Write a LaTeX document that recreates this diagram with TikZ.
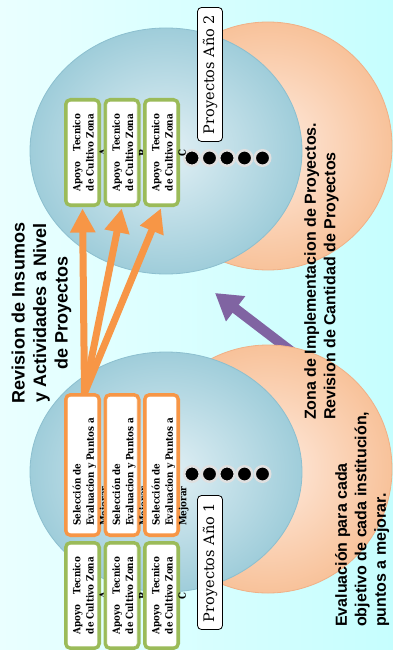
\documentclass[tikz,border=0pt]{standalone}
\usepackage{fontspec}
\newfontfamily\sansf{Liberation Sans}
\newfontfamily\boxf{DejaVu Serif}[FakeStretch=0.88]
\newfontfamily\projf{DejaVu Serif}
\usetikzlibrary{arrows.meta}
\definecolor{bgl}{HTML}{EAFFFF}
\definecolor{bgr}{HTML}{C6FEFE}
\definecolor{bluein}{HTML}{E2F0F5}
\definecolor{blueout}{HTML}{9FCDDA}
\definecolor{blueedge}{HTML}{8CBFCF}
\definecolor{orin}{HTML}{FEEBDF}
\definecolor{orout}{HTML}{F8C29A}
\definecolor{oredge}{HTML}{F0B086}
\definecolor{grn}{HTML}{9BBB59}
\definecolor{orng}{HTML}{F79646}
\definecolor{purp}{HTML}{8064A2}
\tikzset{
  blb/.style={draw=blueedge, line width=0.8pt, inner color=bluein, outer color=blueout},
  orb/.style={draw=oredge, line width=0.8pt, inner color=orin, outer color=orout},
  xbox/.style={draw=#1, line width=3pt, fill=white, rounded corners=5pt, minimum width=34pt, inner sep=0pt},
  gtext/.style={rotate=90, align=center, inner sep=0pt, font=\boxf\bfseries\fontsize{10}{13.3}\selectfont},
  otext/.style={rotate=90, align=left, inner sep=0pt, font=\boxf\bfseries\fontsize{10}{13.3}\selectfont},
  projbox/.style={rotate=90, draw=black, line width=0.8pt, fill=white, rounded corners=4pt, minimum width=134pt, minimum height=25pt, inner sep=0pt, font=\projf\fontsize{14.5}{16}\selectfont},
  dotn/.style={circle, fill=black, draw=black!12, line width=2.5pt, minimum size=15.5pt, inner sep=0pt},
  oarrow/.style={draw=orng, line width=7pt, -{Triangle[width=24pt,length=24pt]}, shorten >=1.5pt},
  parrow/.style={draw=purp, line width=10pt, -{Triangle[width=30pt,length=26pt]}},
  bigtext/.style={rotate=90, inner sep=0pt, text=black, font=\sansf\bfseries\fontsize{16}{19.5}\selectfont}
}
\newcommand{\twobox}[5]{%
  \node[xbox=#5, minimum height=#4pt] (#1) at (#2,#3) {};
  \draw[#5, line width=0.7pt, rounded corners=3pt] ([xshift=3.3pt,yshift=-3.3pt]#1.north west) rectangle ([xshift=-3.3pt,yshift=3.3pt]#1.south east);
}
\newcommand{\apoyotxt}[2]{%
  \node[gtext, anchor=north] (#1t) at ([xshift=8.5pt]#1.west) {\makebox[77pt][s]{Apoyo Tecnico}\\\makebox[77pt][s]{de Cultivo Zona}\\#2};
}
\newcommand{\selectxt}[1]{%
  \node[otext, anchor=north west] (#1t) at ([xshift=8.5pt,yshift=11pt]#1.south west) {Selección de\\Evaluacion y Puntos a\\Mejorar};
}
\begin{document}
\begin{tikzpicture}[x=1pt,y=-1pt]
\useasboundingbox (0,0) rectangle (393,650);
\fill[left color=bgl, right color=bgr] (0,0) rectangle (393,650);
% purple arrow
\coordinate (ptail) at (300,358);
\coordinate (ptip) at (215,293);
\draw[parrow] (ptail) -- (ptip);
% circles
\path[orb] (268,146) circle [radius=124];
\path[blb] (166,151) ellipse [x radius=136, y radius=123];
\path[orb] (268,469) circle [radius=124];
\path[blb] (166,472) ellipse [x radius=136, y radius=120];
% project labels
\node[projbox] (p2) at (210,74.5) {Proyectos Año 2};
\node[projbox] (p1) at (210,562.5) {Proyectos Año 1};
% dots
\foreach \i/\x in {1/192,2/209.5,3/227,4/244.5,5/262.5}{
  \node[dotn] (ta\i) at (\x,158) {};
  \node[dotn] (tb\i) at (\x,474) {};
}
% top green boxes
\twobox{gt1}{82.5}{152.5}{106}{grn}\apoyotxt{gt1}{A}
\twobox{gt2}{122}{152.5}{106}{grn}\apoyotxt{gt2}{B}
\twobox{gt3}{161.5}{152.5}{106}{grn}\apoyotxt{gt3}{C}
% orange boxes
\twobox{ob1}{82.5}{465}{141}{orng}\selectxt{ob1}
\twobox{ob2}{122}{465}{141}{orng}\selectxt{ob2}
\twobox{ob3}{161.5}{465}{141}{orng}\selectxt{ob3}
% bottom green boxes
\twobox{gb1}{82.5}{595.5}{106}{grn}\apoyotxt{gb1}{A}
\twobox{gb2}{122}{595.5}{106}{grn}\apoyotxt{gb2}{B}
\twobox{gb3}{161.5}{595.5}{106}{grn}\apoyotxt{gb3}{C}
% orange arrows
\coordinate (osrc) at ([xshift=2pt]ob1.north);
\draw[oarrow] (osrc) -- (gt1.south);
\draw[oarrow] (osrc) -- (gt2.south);
\draw[oarrow] (osrc) -- (gt3.south);
% texts
\node[bigtext, align=center, font=\sansf\bfseries\fontsize{18}{21.5}\selectfont] (rev) at (41.5,313) {Revision de Insumos\\y Actividades a Nivel\\de Proyectos};
\node[bigtext, align=left, anchor=north west] (zona) at (304,420) {Zona de Implementacion de Proyectos.\\Revision de Cantidad de Proyectos};
\node[bigtext, align=left, anchor=north west] (eval) at (335,627) {Evaluación para cada\\objetivo de cada institución,\\puntos a mejorar.};
\end{tikzpicture}
\end{document}
